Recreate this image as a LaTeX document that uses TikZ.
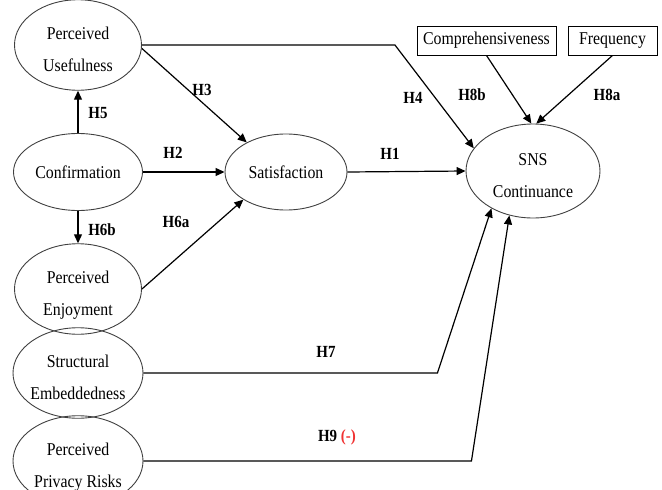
\documentclass[tikz,border=0pt]{standalone}
\usepackage{fontspec}
\setmainfont{Liberation Serif}[FakeStretch=0.88]
\usetikzlibrary{shapes.geometric,arrows.meta}

\definecolor{OvalLine}{gray}{0.25}
\definecolor{SignRed}{RGB}{240,50,50}
\newcommand{\ovaltext}[1]{\raisebox{-4pt}[\height][\depth]{\makebox[0pt]{\begin{tabular}{@{}c@{}}#1\end{tabular}}}}

\tikzset{
  construct/.style={ellipse,draw=OvalLine,line width=0.9pt,inner sep=0pt,
    font=\fontsize{18}{32}\selectfont},
  measure/.style={rectangle,draw,line width=0.9pt,minimum height=29pt,
    inner sep=0pt,font=\fontsize{18}{20}\selectfont},
  link/.style={-{Triangle[length=9pt,width=8pt]},line width=1.2pt},
  hyp/.style={font=\fontsize{17}{20}\selectfont\bfseries}
}

\begin{document}
\begin{tikzpicture}[x=1pt,y=-1pt]
  \useasboundingbox (0,0) rectangle (662,490);
  % constructs
  \node[construct,minimum width=127pt,minimum height=75pt] (pu) at (78,45)
    {\ovaltext{Perceived\\Usefulness}};
  \node[construct,minimum width=129pt,minimum height=77pt] (conf) at (78,172)
    {Confirmation};
  \node[construct,minimum width=122pt,minimum height=76pt] (sat) at (286,172)
    {Satisfaction};
  \node[construct,minimum width=127pt,minimum height=77pt] (pe) at (78,289)
    {\ovaltext{Perceived\\Enjoyment}};
  \node[construct,minimum width=130pt,minimum height=77pt] (se) at (78,373)
    {\ovaltext{Structural\\Embeddedness}};
  \node[construct,minimum width=130pt,minimum height=74pt] (ppr) at (78,461)
    {\ovaltext{Perceived\\Privacy Risks}};
  \node[construct,minimum width=134pt,minimum height=94pt] (sns) at (533,171)
    {\ovaltext{SNS\\Continuance}};
  \node[measure,minimum width=139pt] (comp) at (486.5,40.5) {Comprehensiveness};
  \node[measure,minimum width=89pt] (freq) at (612.5,40.5) {Frequency};

  % hypotheses
  \draw[link] (conf.north) -- (pu.south);
  \draw[link] (conf.south) -- (pe.north);
  \draw[link] (pu.-3) -- (sat.143);
  \draw[link] (conf.east) -- (sat.west);
  \draw[link] (pe.east) -- (sat.213);
  \draw[link] (sat.east) -- (sns.west);
  \draw[link] (pu.east) -- ++(253,0) -- (sns.159);
  \draw[link] (comp.south) -- (sns.92);
  \draw[link] (freq.south) -- (sns.86);
  \draw[link] (se.east) -- ++(294,0) -- (sns.222);
  \draw[link] (ppr.east) -- ++(328,0) -- (sns.242);

  \foreach \lab/\x/\y in {H5/98/113, H6b/102/230, H3/202/90, H2/173/153,
                          H6a/176/222, H1/390/154, H4/413/98, H8b/472/95,
                          H8a/607/95, H7/326/352} {
    \node[hyp] (\lab) at (\x,\y) {\lab};
  }
  \node[hyp] (H9) at (337,437) {H9 \textcolor{SignRed}{(-)}};
\end{tikzpicture}
\end{document}
